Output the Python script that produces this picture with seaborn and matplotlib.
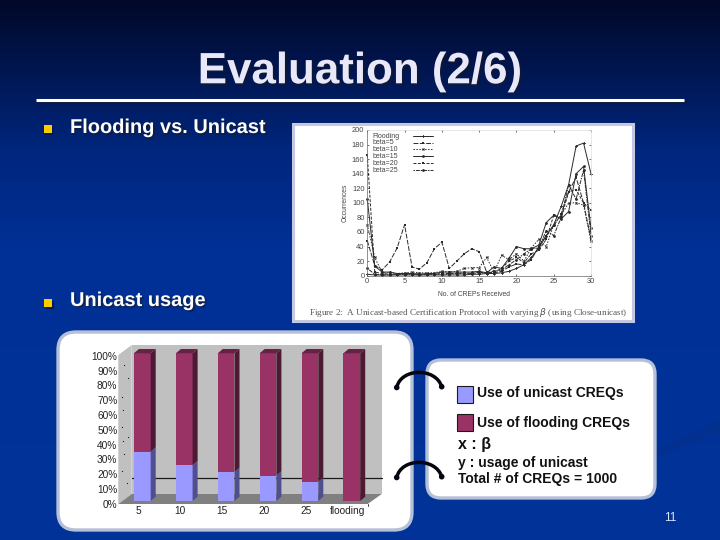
import numpy as np
import pandas as pd
import matplotlib
matplotlib.use("Agg")
import matplotlib.pyplot as plt
import matplotlib.patheffects as pe
from matplotlib.patches import FancyBboxPatch, Rectangle, Polygon, PathPatch, Circle
from matplotlib.path import Path
from matplotlib.transforms import ScaledTranslation
import seaborn as sns

# ---------- data ----------
creps = list(range(31))
flooding = [2,1,1,1,1,1,1,1,1,1,1,1,1,1,2,2,3,3,4,6,10,15,25,38,55,70,95,125,178,182,140]
beta5 = [48,14,8,19,38,70,12,9,18,37,46,10,20,30,37,33,5,4,6,12,16,15,22,40,55,68,85,115,135,100,50]
beta10 = [70,25,4,4,3,4,5,4,4,4,6,5,6,10,11,11,25,5,28,22,30,20,38,50,40,70,83,100,100,97,47]
beta15 = [105,13,5,5,3,3,3,2,3,3,5,5,5,5,5,6,4,12,10,24,40,37,37,42,73,83,78,88,140,150,65]
beta20 = [165,5,3,2,2,2,3,2,2,2,3,3,3,4,3,5,3,5,10,20,25,18,30,35,50,83,80,115,118,100,90]
beta25 = [10,2,1,1,2,2,2,1,2,2,2,2,3,3,3,4,4,6,8,15,22,30,37,38,62,55,80,125,105,145,55]
series_names = ["Flooding", "beta=5", "beta=10", "beta=15", "beta=20", "beta=25"]
series_values = [flooding, beta5, beta10, beta15, beta20, beta25]
line_yticks = list(range(0, 201, 20))
line_xticks = list(range(0, 31, 5))

bar_categories = ["5", "10", "15", "20", "25", "flooding"]
unicast_pct = [33.4, 24.2, 19.6, 17.2, 12.9, 0]
flooding_pct = [66.6, 75.8, 80.4, 82.8, 87.1, 100]
bar_yticks = list(range(0, 101, 10))

# ---------- style ----------
sns.set_theme(style="white")
plt.rcParams["font.family"] = ["Liberation Sans", "DejaVu Sans"]
plt.rcParams["axes.grid"] = False

W, H = 720, 540
fig = plt.figure(figsize=(7.2, 5.4), dpi=100)

def px_axes(l, t, r, b, z):
    a = fig.add_axes([l / W, 1 - b / H, (r - l) / W, (b - t) / H])
    a.set_zorder(z)
    return a

# ---------- slide background and decoration ----------
bg = px_axes(0, 0, W, H, 0)
bg.set_xlim(0, W); bg.set_ylim(H, 0); bg.axis("off")
ys = np.arange(H)
stops_y = [0, 60, 150, 250, 540]
stops = np.array([[2, 8, 40], [0, 20, 75], [0, 38, 125], [0, 48, 150], [0, 51, 153]]) / 255
grad = np.stack([np.interp(ys, stops_y, stops[:, i]) for i in range(3)], axis=1)[:, None, :]
bg.imshow(grad, extent=(0, W, H, 0), aspect="auto", zorder=0)
bg.add_patch(Polygon([(655, 450), (720, 420), (720, 432), (655, 458)], fc="#03308f", ec="none", zorder=0.5))

shadow = [pe.withSimplePatchShadow(offset=(1.3, -1.3), shadow_rgbFace="k", alpha=0.55)]
bg.text(360, 83.3, "Evaluation (2/6)", ha="center", va="baseline", fontsize=31.6, fontweight="bold",
        color="#E8E8FA", path_effects=shadow)
bg.plot([36, 685], [100.5, 100.5], color="k", lw=2.2, alpha=0.5, solid_capstyle="butt")
bg.plot([36, 684], [99.5, 99.5], color="white", lw=2.2, solid_capstyle="butt")
for y in (127, 301):
    bg.add_patch(Rectangle((45.5, y - 0.5), 8, 8, fc="#0a1a55", ec="none"))
    bg.add_patch(Rectangle((44, y - 2), 8, 8, fc="#FFCC00", ec="none"))
bg.text(70, 133, "Flooding vs. Unicast", va="baseline", fontsize=14.4, fontweight="bold", color="white", path_effects=shadow)
bg.text(70, 306, "Unicast usage", va="baseline", fontsize=14.4, fontweight="bold", color="white", path_effects=shadow)

# line chart card
bg.add_patch(Rectangle((292.5, 123.5), 340, 197, fc="white", ec="#C4C8E2", lw=2.2, zorder=2))
bg.text(468.5, 312.7, "Figure 2:  A Unicast-based Certification Protocol with varying $\\beta$ (using Close-unicast)",
        ha="center", va="center", family="Liberation Serif", fontsize=6.55, color="#555555", zorder=3)

# rounded cards
bg.add_patch(FancyBboxPatch((72, 346), 326, 170, boxstyle="round,pad=14,rounding_size=18",
                            fc="white", ec="#B4BFD8", lw=2.4, zorder=2))
bg.add_patch(FancyBboxPatch((437, 370), 208, 118, boxstyle="round,pad=10,rounding_size=14",
                            fc="white", ec="#B4BFD8", lw=2.4, zorder=2))

# 3D chart walls
bg.add_patch(Polygon([(131.7, 345), (382.3, 345), (382.3, 494), (131.7, 494)], fc="#C0C0C0", ec="none", zorder=3))
bg.add_patch(Polygon([(118.3, 355), (131.7, 345), (131.7, 494), (118.3, 504)], fc="#C0C0C0", ec="none", zorder=3))
bg.add_patch(Polygon([(118.3, 504), (131.7, 494), (382.3, 494), (368.3, 504)], fc="#808080", ec="none", zorder=3))
bg.plot([131.7, 382.3], [478.3, 478.3], color="k", lw=0.9, zorder=3.5)
bg.plot([368.3, 382.3], [504, 494], color="white", lw=0.5, zorder=3.4)
bg.plot([368.3, 368.3], [504, 506], color="k", lw=0.6, zorder=3.4)
bg.scatter([124.3, 128.3, 121.7, 123.3, 122.3, 128.3, 123.3, 124.3, 121.7, 126.7],
           [365, 377.7, 396.7, 410, 426.7, 437.3, 440.7, 454.3, 471, 482.7],
           s=0.8, color="k", zorder=3.5, linewidths=0)

# connector arcs
for dy in (0, 90):
    verts = [(396.7, 387.5 + dy), (401, 367.5 + dy), (436, 367.5 + dy), (441.7, 386.7 + dy)]
    bg.add_patch(PathPatch(Path(verts, [Path.MOVETO, Path.CURVE4, Path.CURVE4, Path.CURVE4]),
                           fc="none", ec="#050510", lw=2.5, zorder=4))
    bg.add_patch(Circle(verts[0], 2.8, fc="#050510", ec="none", zorder=4))
    bg.add_patch(Circle(verts[-1], 2.8, fc="#050510", ec="none", zorder=4))

# legend card contents
bg.add_patch(Rectangle((456.5, 385.5), 16.5, 17, fc="#9999FF", ec="k", lw=0.8, zorder=4))
bg.add_patch(Rectangle((456.5, 414), 16.5, 17, fc="#993366", ec="k", lw=0.8, zorder=4))
kw = dict(va="center", fontweight="bold", color="#111111", zorder=4)
bg.text(477, 393, "Use of unicast CREQs", fontsize=10, **kw)
bg.text(477, 423, "Use of flooding CREQs", fontsize=10, **kw)
bg.text(458, 445, "x : β", fontsize=11.5, **kw)
bg.text(458, 463, "y : usage of unicast", fontsize=10, **kw)
bg.text(458, 479, "Total # of CREQs = 1000", fontsize=10, **kw)
bg.text(670, 518, "11", ha="center", va="center", fontsize=8.5, color="#DDE4F5", zorder=4)

# ---------- line chart ----------
ax = px_axes(367.3, 130, 591, 275.7, 5)
ax.patch.set_alpha(0)
long = pd.DataFrame({
    "x": creps * len(series_names),
    "y": [v for s in series_values for v in s],
    "series": [n for n in series_names for _ in creps],
})
dashes = {"Flooding": "", "beta=5": (5, 1.5), "beta=10": (1.5, 1.5), "beta=15": "", "beta=20": (3, 1.5), "beta=25": (1.5, 1, 4, 1)}
marks = {"Flooding": "P", "beta=5": "s", "beta=10": "X", "beta=15": "o", "beta=20": "s", "beta=25": "o"}
LINE = "#2a2a2a"
sns.lineplot(data=long, x="x", y="y", hue="series", style="series", hue_order=series_names, style_order=series_names,
             palette=[LINE] * 6, dashes=dashes, markers=marks, markersize=2.0, linewidth=0.7,
             markeredgewidth=0, ax=ax, errorbar=None, estimator=None, clip_on=False, legend=False)
ax.set_xlim(0, 30); ax.set_ylim(0, 200)
ax.set_xticks(line_xticks); ax.set_yticks(line_yticks)
ax.tick_params(direction="in", length=1.5, width=0.5, color="#333333", labelsize=5.4, labelcolor="#444444",
               pad=2, top=True, right=True, bottom=True, left=True)
for name, s in ax.spines.items():
    s.set_linewidth(0.5)
    s.set_color("#666666" if name in ("left", "bottom") else "#DDDDDD")
ax.set_xlabel("No. of CREPs Received", fontsize=4.9, color="#444444")
ax.set_ylabel("Occurrences", fontsize=4.9, color="#444444", labelpad=2.5)
ax.xaxis.set_label_coords(0.478, -0.105)

# gnuplot-style key: label on the left, sample line on the right
key_rows = [136, 142.7, 149.3, 156, 163.3, 170]
for name, ky in zip(series_names, key_rows):
    bg.text(372.7, ky, name, va="center", fontsize=5, color="#444444", zorder=6)
    d = dashes[name]
    bg.plot([412.7, 432.7], [ky, ky], color=LINE, lw=0.7, zorder=6, **({"dashes": d} if d else {}))
    bg.plot([422.7], [ky], marker=marks[name], ms=2.0, mew=0, color=LINE, zorder=6)

# ---------- stacked 3D-look bar chart ----------
ax2 = px_axes(121.35, 353.3, 372.75, 501, 6)
ax2.patch.set_alpha(0)
totals = [u + f for u, f in zip(unicast_pct, flooding_pct)]
MAROON, BLUE = "#993366", "#9999FF"
sns.barplot(x=bar_categories, y=totals, order=bar_categories, color=MAROON, saturation=1, width=0.4, ax=ax2, linewidth=0)
sns.barplot(x=bar_categories, y=unicast_pct, order=bar_categories, color=BLUE, saturation=1, width=0.4, ax=ax2, linewidth=0)
ax2.set_xlim(-0.5, 5.5); ax2.set_ylim(0, 100)
ax2.set_yticks(bar_yticks)
ax2.set_yticklabels([f"{t}%" for t in bar_yticks])
sns.despine(ax=ax2, left=True, bottom=True)
ax2.tick_params(length=0, labelsize=7.3, labelcolor="#222222", pad=0)
ddx, ddy = 0.12, 2.9
for i, (u, t) in enumerate(zip(unicast_pct, totals)):
    p = ax2.patches[i]
    x1 = p.get_x() + p.get_width()
    x0 = p.get_x()
    if u > 0:
        ax2.add_patch(Polygon([(x1, 0), (x1 + ddx, ddy), (x1 + ddx, u + ddy), (x1, u)], fc="#4F4F8F", ec="none", clip_on=False))
    ax2.add_patch(Polygon([(x1, u), (x1 + ddx, u + ddy), (x1 + ddx, t + ddy), (x1, t)], fc="#4D1A33", ec="none", clip_on=False))
    ax2.add_patch(Polygon([(x0, t), (x0 + ddx, t + ddy), (x1 + ddx, t + ddy), (x1, t)], fc="#662244", ec="none", clip_on=False))
off_y = ScaledTranslation(-4 * 0.72 / 72, -2.6 * 0.72 / 72, fig.dpi_scale_trans)
for lab in ax2.get_yticklabels():
    lab.set_transform(lab.get_transform() + off_y)
off_x = ScaledTranslation(-4 * 0.72 / 72, -5 * 0.72 / 72, fig.dpi_scale_trans)
for lab in ax2.get_xticklabels():
    lab.set_transform(lab.get_transform() + off_x)

fig.savefig("out.png", dpi=100)
